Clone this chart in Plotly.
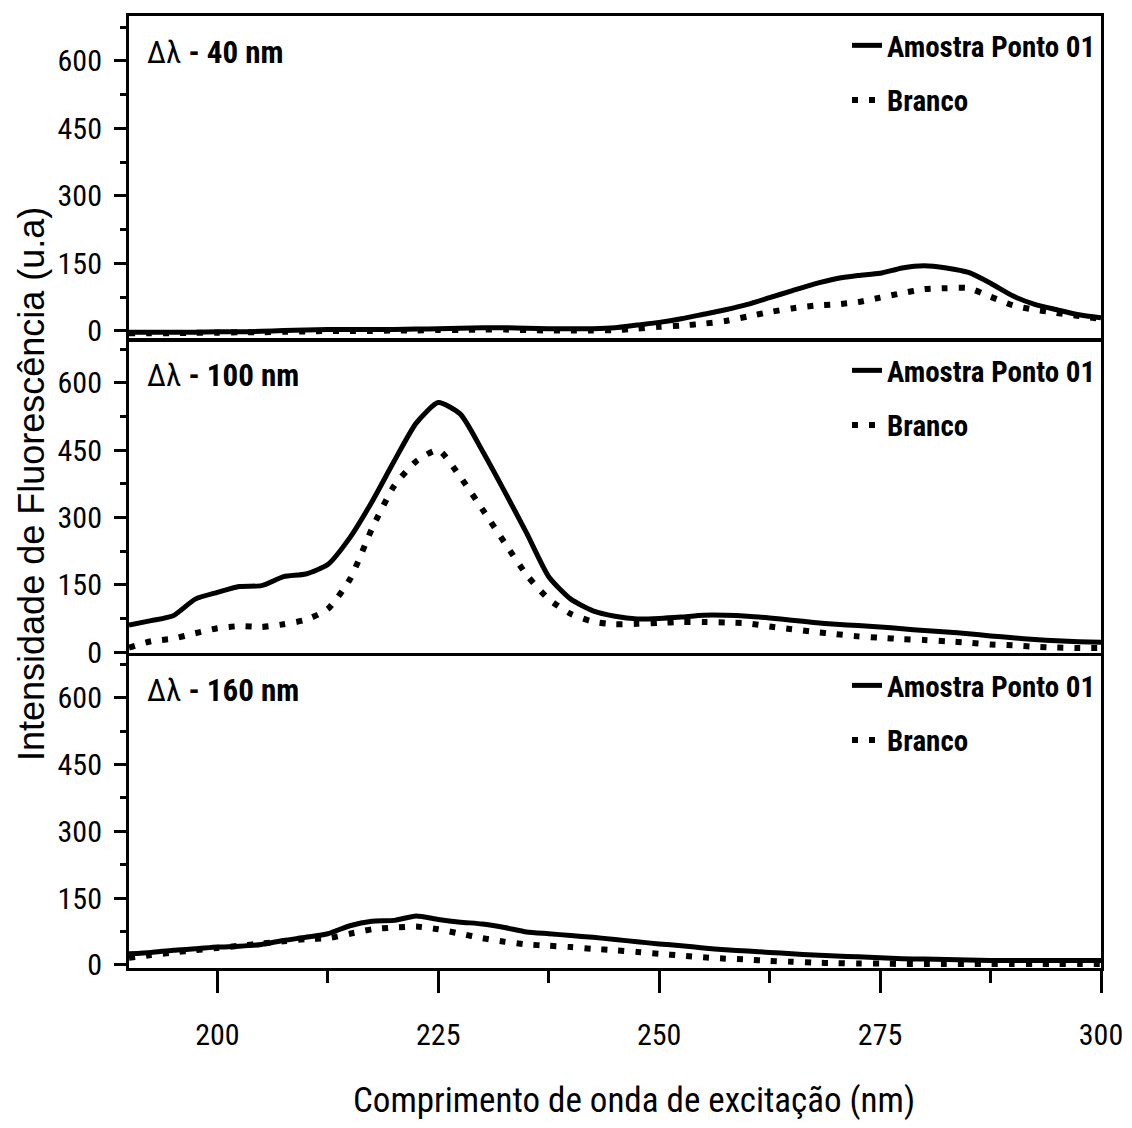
import plotly.graph_objects as go

# ---------------- data ----------------
wavelength = [190, 192.5, 195, 197.5, 200, 202.5, 205, 207.5, 210, 212.5,
              215, 217.5, 220, 222.5, 225, 227.5, 230, 232.5, 235, 237.5,
              240, 242.5, 245, 247.5, 250, 252.5, 255, 257.5, 260, 262.5,
              265, 267.5, 270, 272.5, 275, 277.5, 280, 282.5, 285, 287.5,
              290, 292.5, 295, 297.5, 300]

amostra_40 = [-3, -3, -3, -3, -2, -2, -1, 1, 2, 3,
              3, 3, 3, 4, 5, 6, 7, 7, 6, 5,
              5, 5, 7, 13, 19, 27, 37, 47, 59, 74,
              89, 104, 116, 123, 128, 140, 145, 140, 130, 106,
              78, 59, 47, 36, 29]
branco_40 = [-5, -5, -5, -4, -4, -3, -3, -2, -1, 0,
             0, 0, 1, 1, 2, 2, 3, 3, 2, 1,
             1, 1, 2, 5, 9, 12, 16, 22, 32, 42,
             50, 56, 59, 64, 74, 84, 93, 95, 95, 76,
             57, 47, 40, 33, 27]

amostra_100 = [60, 70, 81, 118, 133, 146, 148, 168, 174, 195,
               255, 335, 425, 510, 556, 530, 448, 358, 265, 168,
               118, 92, 80, 74, 75, 78, 82, 82, 80, 76,
               71, 66, 62, 59, 56, 52, 48, 45, 41, 36,
               32, 28, 25, 23, 22]
branco_100 = [10, 24, 30, 42, 53, 58, 56, 62, 72, 96,
              162, 275, 370, 425, 450, 390, 318, 244, 172, 118,
              85, 68, 62, 63, 65, 67, 67, 66, 64, 57,
              51, 45, 40, 35, 32, 29, 27, 24, 21, 17,
              15, 12, 10, 9, 9]

amostra_160 = [25, 28, 33, 36, 40, 42, 46, 55, 62, 70,
               88, 98, 100, 110, 102, 96, 92, 84, 74, 70,
               66, 62, 57, 52, 47, 43, 38, 34, 31, 28,
               25, 22, 20, 18, 16, 14, 13, 12, 11, 10,
               10, 10, 10, 10, 10]
branco_160 = [16, 22, 28, 33, 38, 43, 48, 53, 58, 60,
              70, 80, 84, 86, 80, 70, 60, 52, 46, 43,
              40, 36, 33, 29, 25, 21, 17, 14, 12, 9,
              7, 5, 4, 3, 3, 2, 2, 2, 2, 2,
              2, 2, 2, 2, 2]

panel_labels = ["40 nm", "100 nm", "160 nm"]
series_names = ["Amostra Ponto 01", "Branco"]
y_tick_values = [0, 150, 300, 450, 600]
x_tick_values = [200, 225, 250, 275, 300]
x_title = "Comprimento de onda de excitação (nm)"
y_title = "Intensidade de Fluorescência (u.a)"

# ---------------- figure ----------------
NARROW = "Liberation Sans Narrow, Arial Narrow, Roboto Condensed, DejaVu Sans Condensed, Liberation Sans, sans-serif"
REG = "Liberation Sans, Arial, sans-serif"

panels = [(amostra_40, branco_40), (amostra_100, branco_100), (amostra_160, branco_160)]
y_domains = [[0.6607, 1.0], [0.3309, 0.6586], [0.0, 0.3277]]
y_ranges = [[-18, 700], [-2, 693], [-7, 694]]

fig = go.Figure()
layout = dict(
    width=1120, height=1116,
    margin=dict(l=121, r=21, t=5, b=156),
    paper_bgcolor="white", plot_bgcolor="white",
    font=dict(family=NARROW, color="black", size=30),
    annotations=[],
)

for i, (amo, bra) in enumerate(panels):
    sfx = "" if i == 0 else str(i + 1)
    xa, ya = "x" + sfx, "y" + sfx
    leg = "legend" + sfx
    fig.add_trace(go.Scatter(
        x=wavelength, y=amo, mode="lines", name=series_names[0],
        line=dict(color="black", width=5, shape="spline", smoothing=0.6),
        xaxis=xa, yaxis=ya, legend=leg, legendgroup="a%d" % i))
    fig.add_trace(go.Scatter(
        x=wavelength, y=bra, mode="lines", name=series_names[1],
        line=dict(color="black", width=6, dash="6px,11px", shape="spline", smoothing=0.6),
        xaxis=xa, yaxis=ya, legend=leg, legendgroup="b%d" % i))

    is_bottom = (i == 2)
    layout["xaxis" + sfx] = dict(
        domain=[0, 1], anchor=ya, range=[190, 300],
        showline=True, linecolor="black", linewidth=3, mirror=True,
        showgrid=False, zeroline=False,
        tickvals=x_tick_values if is_bottom else [],
        ticks="outside" if is_bottom else "",
        ticklen=22, tickwidth=3, tickcolor="black",
        showticklabels=is_bottom,
        ticklabelstandoff=16,
        ticklabeloverflow="allow",
        tickfont=dict(family=NARROW, size=30, color="black"),
        minor=dict(tickvals=[212.5, 237.5, 262.5, 287.5], ticks="outside",
                   ticklen=12, tickwidth=3, tickcolor="black") if is_bottom else dict(ticks=""),
        **({} if i == 2 else {"matches": "x3"}),
    )
    layout["yaxis" + sfx] = dict(
        domain=y_domains[i], anchor=xa, range=y_ranges[i],
        showline=True, linecolor="black", linewidth=3, mirror=True,
        showgrid=False, zeroline=False,
        tickvals=y_tick_values, ticks="outside", ticklen=12, tickwidth=3,
        tickcolor="black", ticklabelstandoff=6,
        tickfont=dict(family=NARROW, size=30, color="black"),
        minor=dict(tickvals=[75, 225, 375, 525, 675], ticks="outside",
                   ticklen=6, tickwidth=3, tickcolor="black"),
    )
    layout[leg] = dict(
        x=1.0, xanchor="right",
        y=y_domains[i][1] - 4 / 955, yanchor="top",
        bgcolor="rgba(0,0,0,0)", borderwidth=0,
        font=dict(family=NARROW, size=29, color="black", weight="bold"),
        tracegroupgap=14, itemwidth=30,
    )
    layout["annotations"].append(dict(
        xref=xa + " domain", yref=ya + " domain", x=0.016, y=0.888,
        xanchor="left", yanchor="middle", showarrow=False,
        text="Δλ <b>- %s</b>" % panel_labels[i],
        font=dict(family=NARROW, size=31, color="black"),
    ))

layout["annotations"].append(dict(
    xref="paper", yref="paper", x=-0.1002, y=0.508, xanchor="center", yanchor="middle",
    textangle=-90, showarrow=False, text=y_title,
    font=dict(family=REG, size=36, color="black"),
))
layout["annotations"].append(dict(
    xref="paper", yref="paper", x=0.52, y=-0.139, xanchor="center", yanchor="middle",
    showarrow=False, text=x_title,
    font=dict(family=NARROW, size=35, color="black"),
))

fig.update_layout(**layout)
fig.write_html("out.html")
